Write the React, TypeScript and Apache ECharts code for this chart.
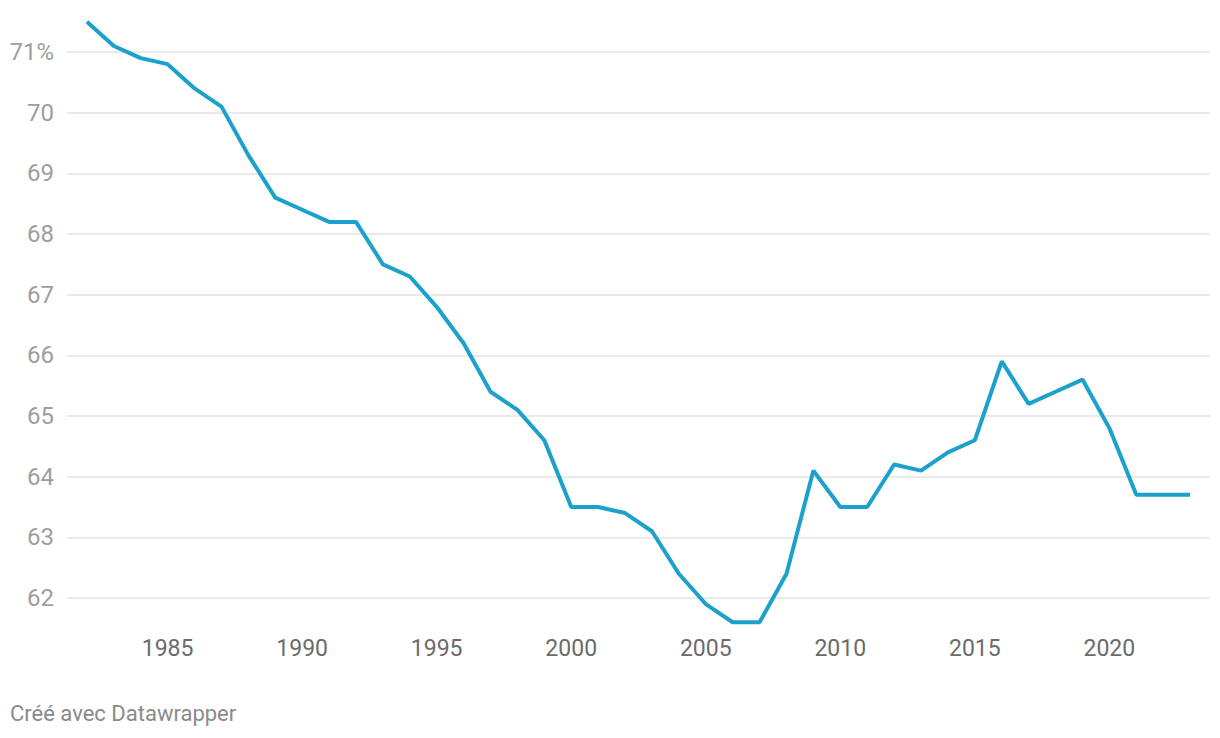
import React, { useEffect, useRef } from "react";
import * as echarts from "echarts";

const years = [
  1982, 1983, 1984, 1985, 1986, 1987, 1988, 1989, 1990, 1991, 1992, 1993, 1994, 1995,
  1996, 1997, 1998, 1999, 2000, 2001, 2002, 2003, 2004, 2005, 2006, 2007, 2008, 2009,
  2010, 2011, 2012, 2013, 2014, 2015, 2016, 2017, 2018, 2019, 2020, 2021, 2022, 2023,
];
const values = [
  71.5, 71.1, 70.9, 70.8, 70.4, 70.1, 69.3, 68.6, 68.4, 68.2, 68.2, 67.5, 67.3, 66.8,
  66.2, 65.4, 65.1, 64.6, 63.5, 63.5, 63.4, 63.1, 62.4, 61.9, 61.6, 61.6, 62.4, 64.1,
  63.5, 63.5, 64.2, 64.1, 64.4, 64.6, 65.9, 65.2, 65.4, 65.6, 64.8, 63.7, 63.7, 63.7,
];
const xTicks = [1985, 1990, 1995, 2000, 2005, 2010, 2015, 2020];
const yTicks = [62, 63, 64, 65, 66, 67, 68, 69, 70, 71];
const footer = "Créé avec Datawrapper";

export default function App() {
  const ref = useRef<HTMLDivElement>(null);
  useEffect(() => {
    if (!ref.current) return;
    const chart = echarts.init(ref.current, null, { renderer: "svg" });
    chart.setOption({
      animation: false,
      textStyle: { fontFamily: "Roboto" },
      grid: { left: 67, right: 10, top: 21.7, height: 606.6 },
      xAxis: {
        type: "value",
        min: 1981.26,
        max: 2023.74,
        axisLine: { show: false },
        axisTick: { show: false },
        splitLine: { show: false },
        axisLabel: {
          customValues: xTicks,
          color: "#6b6b6b",
          fontSize: 23,
          margin: 9,
          formatter: (v: number) => String(v),
        },
      },
      yAxis: {
        type: "value",
        min: 61.5,
        max: 71.5,
        axisLine: { show: false },
        axisTick: { show: false, customValues: yTicks },
        axisLabel: {
          customValues: yTicks,
          color: "#9e9e9e",
          fontSize: 24,
          margin: 13,
          formatter: (v: number) => (v === 71 ? "71%" : String(v)),
        },
        splitLine: { show: true, lineStyle: { color: "#e3e3e3", width: 1.5 } },
      },
      series: [
        {
          type: "line",
          data: years.map((y, i) => [y, values[i]]),
          showSymbol: false,
          lineStyle: { color: "#1ba1cc", width: 4 },
          itemStyle: { color: "#1ba1cc" },
        },
      ],
      graphic: [
        {
          type: "text",
          left: 10,
          top: 702,
          style: { text: footer, fill: "#8a8a8a", fontSize: 22, fontFamily: "Roboto" },
        },
      ],
    });
    return () => chart.dispose();
  }, []);
  return (
    <div
      ref={ref}
      style={{ position: "fixed", left: 0, top: 0, width: 1220, height: 738, background: "#fff" }}
    />
  );
}
